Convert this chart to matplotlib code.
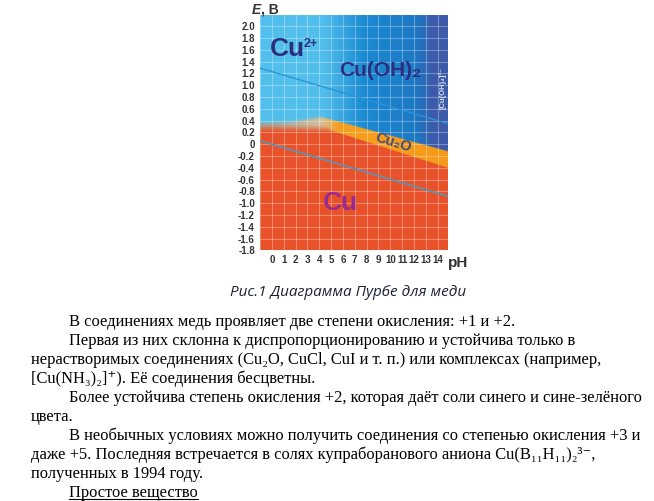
import numpy as np
import matplotlib
matplotlib.use("Agg")
import matplotlib.pyplot as plt
from matplotlib.colors import to_rgb
from matplotlib.lines import Line2D

# ---------------- data ----------------
ph_ticks = list(range(0, 15))
ph_tick_labels = [str(v) for v in ph_ticks]
e_ticks = [-1.8, -1.6, -1.4, -1.2, -1.0, -0.8, -0.6, -0.4, -0.2, 0.0,
           0.2, 0.4, 0.6, 0.8, 1.0, 1.2, 1.4, 1.6, 1.8, 2.0]
e_tick_labels = ['-1.8', '-1.6', '-1.4', '-1.2', '-1.0', '-0.8', '-0.6', '-0.4', '-0.2', '0',
                 '0.2', '0.4', '0.6', '0.8', '1.0', '1.2', '1.4', '1.6', '1.8', '2.0']

# water stability lines
o2_ph = [-1.0, 14.85]
o2_e = [1.29, 0.35]
h2_ph = [-1.0, 14.85]
h2_e = [0.06, -0.88]

# region boundaries
cu_top_ph = [-1.0, 4.5, 5.5, 14.85]
cu_top_e = [0.27, 0.25, 0.19, -0.41]
cu2o_top_ph = [-1.0, 1.5, 4.2, 14.85]
cu2o_top_e = [0.33, 0.36, 0.45, -0.13]

# background colour stops along pH (Cu2+ -> Cu(OH)2 -> [Cu(OH)4]2-)
blue_ph = [-1.0, 4.3, 7.8, 12.2, 13.6, 14.85]
blue_col = ['#52BFEC', '#52BFEC', '#1A8AD2', '#1E78C4', '#3C5BAA', '#3C5BAA']
orange_ph = [-1.0, 4.2, 5.6, 14.85]
orange_col = ['#F0965A', '#F3BE86', '#F5A020', '#F59A18']
red_col = '#E8522A'

region_labels = ['Cu', 'Cu(OH)₂', 'Cu₂O', 'Cu', '[Cu(OH)₄]²⁻']
region_label_ph = [1.3, 9.2, 10.3, 5.8, 14.42]
region_label_e = [1.62, 1.25, 0.03, -1.0, 0.95]
cu2_charge = '2+'

caption = 'Рис.1 Диаграмма Пурбе для меди'
body_lines = [
    "В соединениях медь проявляет две степени окисления: +1 и +2.",
    "Первая из них склонна к диспропорционированию и устойчива только в",
    "нерастворимых соединениях (Cu₂O, CuCl, CuI и т. п.) или комплексах (например,",
    "[Cu(NH₃)₂]⁺). Её соединения бесцветны.",
    "Более устойчива степень окисления +2, которая даёт соли синего и сине-зелёного",
    "цвета.",
    "В необычных условиях можно получить соединения со степенью окисления +3 и",
    "даже +5. Последняя встречается в солях купраборанового аниона Cu(B₁₁H₁₁)₂³⁻,",
    "полученных в 1994 году.",
    "Простое вещество",
]
body_indent = [1, 1, 0, 0, 1, 0, 1, 0, 0, 1]

# ---------------- figure ----------------
W, H = 654, 501
fig = plt.figure(figsize=(W / 100, H / 100), dpi=100)
fig.patch.set_facecolor('white')

xl, xr = -1.0, 14.85
yb, yt = -1.8, 2.19
ax = fig.add_axes([260 / W, 1 - 250.5 / H, (447.7 - 260) / W, (250.5 - 15) / H])
ax.set_xlim(xl, xr)
ax.set_ylim(yb, yt)

# colour field
ph = np.linspace(xl, xr, 600)
ee = np.linspace(yb, yt, 900)
PH, EE = np.meshgrid(ph, ee)

def interp_cols(x, xs, cols):
    c = np.array([to_rgb(v) for v in cols])
    return np.stack([np.interp(x, xs, c[:, k]) for k in range(3)], axis=-1)

img = interp_cols(PH, blue_ph, blue_col)

upper = np.interp(PH, cu2o_top_ph, cu2o_top_e)
w2 = np.interp(PH, [-1, 3.8, 4.6], [0.12, 0.06, 0.008])
a_o = np.clip((upper - EE) / w2 + 0.5, 0, 1)
a_o = a_o * np.interp(PH, [-1, 2, 4.2, 5.5], [0.6, 0.65, 0.8, 1.0])
ocol = interp_cols(PH, orange_ph, orange_col)
img = img * (1 - a_o[..., None]) + ocol * a_o[..., None]

lower = np.interp(PH, cu_top_ph, cu_top_e)
w = np.interp(PH, [-1, 4.5, 5.4, 5.6], [0.14, 0.12, 0.02, 0.006])
a_r = np.clip((lower - EE) / w + 0.5, 0, 1)
img = img * (1 - a_r[..., None]) + np.array(to_rgb(red_col)) * a_r[..., None]

ax.imshow(img, extent=(xl, xr, yb, yt), origin='lower', aspect='auto',
          interpolation='bilinear', zorder=0)

# grid
for x in range(-1, 15):
    ax.axvline(x, color='white', alpha=0.3, lw=0.8, zorder=1)
for y in np.arange(-1.8, 2.21, 0.2):
    ax.axhline(y, color='white', alpha=0.3, lw=0.8, zorder=1)

# water lines
ax.plot(o2_ph, o2_e, color='#2A94D8', lw=1.0, zorder=2)
ax.plot(h2_ph, h2_e, color='#6C8CA6', lw=1.4, zorder=2)

# region labels
lab_style = [
    dict(fontsize=19, color='#2C2F80', rotation=0),
    dict(fontsize=15, color='#2C2F80', rotation=0),
    dict(fontsize=10.5, color='#454A78', rotation=-17),
    dict(fontsize=19, color='#9A2C8E', rotation=0),
    dict(fontsize=5.5, color='#DCE6F4', rotation=90),
]
lab_artists = []
for t, x, y, st in zip(region_labels, region_label_ph, region_label_e, lab_style):
    lab_artists.append(ax.text(x, y, t, ha='center', va='center',
                               family=['Liberation Sans', 'DejaVu Sans'],
                               fontweight='bold', zorder=3, **st))

ax.set_xticks(ph_ticks)
ax.set_xticklabels(ph_tick_labels)
ax.set_yticks(e_ticks)
ax.set_yticklabels(e_tick_labels)
ax.tick_params(length=0, labelsize=7, labelcolor='#333333')
ax.tick_params(axis='y', pad=3.6)
ax.tick_params(axis='x', pad=3.0)
for lab in ax.get_xticklabels() + ax.get_yticklabels():
    lab.set_family('Liberation Sans')
    lab.set_fontweight('bold')
for s in ax.spines.values():
    s.set_visible(False)

# axis titles
tE = fig.text(252 / W, 1 - 13.5 / H, 'E', fontsize=10, color='#333333',
              family='Liberation Sans', fontweight='bold', style='italic', va='baseline')
fig.text(448 / W, 1 - 267 / H, 'pH', fontsize=11, color='#333333',
         family='Liberation Sans', fontweight='bold', va='baseline')

# caption
fig.text(230 / W, 1 - 296.5 / H, caption, fontsize=11.0, style='italic',
         family='Open Sans', color='#1B2038', va='baseline')

# body text
texts = []
for i, (line, ind) in enumerate(zip(body_lines, body_indent)):
    x = 69 if ind else 31
    yb_px = 326 + 19.0 * i
    t = fig.text(x / W, 1 - yb_px / H, line, fontsize=11.9,
                 family=['Liberation Serif', 'DejaVu Serif'],
                 color='black', va='baseline')
    texts.append(t)

fig.canvas.draw()
# ", B" right after the italic E
bbE = tE.get_window_extent()
fig.text(bbE.x1 / W, 1 - 13.5 / H, ', B', fontsize=10, color='#333333',
         family='Liberation Sans', fontweight='bold', va='baseline')
# charge of Cu2+ as small superscript after "Cu"
bbC = lab_artists[0].get_window_extent()
fig.text((bbC.x1 - 1) / W, (bbC.y1 - 1) / H, cu2_charge, fontsize=9, color='#2C2F80',
         family='Liberation Sans', fontweight='bold', va='top', ha='left')
# underline of the last line
bb = texts[-1].get_window_extent()
fig.add_artist(Line2D([bb.x0 / W, bb.x1 / W], [1 - 499.3 / H, 1 - 499.3 / H],
                      transform=fig.transFigure, color='black', lw=0.8))

fig.savefig('out.png', dpi=100, facecolor='white')
